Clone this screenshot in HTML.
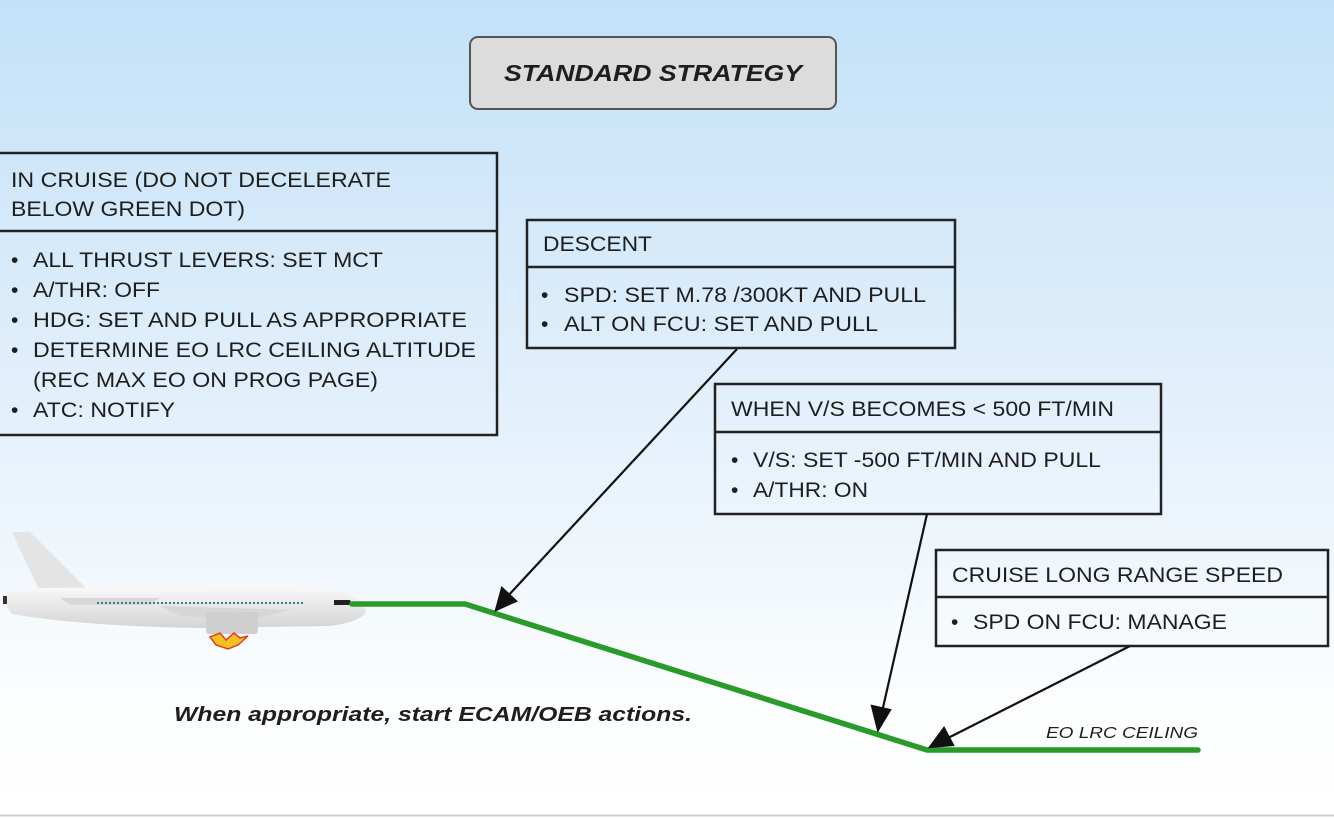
<!DOCTYPE html>
<html><head><meta charset="utf-8"><style>
html,body{margin:0;padding:0;width:1334px;height:818px;overflow:hidden;background:#fff}
svg{display:block}
text{font-family:"Liberation Sans",sans-serif;fill:#1e1e1e}
</style></head><body>
<svg width="1334" height="818" viewBox="0 0 1334 818" xmlns="http://www.w3.org/2000/svg">
<defs>
<linearGradient id="bg" x1="0" y1="0" x2="0" y2="1">
<stop offset="0" stop-color="#c3e1f8"/>
<stop offset="0.5" stop-color="#e3f0fb"/>
<stop offset="0.85" stop-color="#fbfdfe"/>
<stop offset="1" stop-color="#ffffff"/>
</linearGradient>
<linearGradient id="pl" x1="0" y1="0" x2="0" y2="1">
<stop offset="0" stop-color="#fafafa"/><stop offset="1" stop-color="#d4d4d4"/>
</linearGradient>
</defs>
<rect x="0" y="0" width="1334" height="815" fill="url(#bg)"/>
<line x1="0" y1="815.5" x2="1334" y2="815.5" stroke="#cfcfcf" stroke-width="2"/>

<rect x="470" y="37" width="366" height="72" rx="8" fill="#dcdcdc" stroke="#555" stroke-width="2"/>
<text x="653" y="81" text-anchor="middle" font-size="23" font-weight="bold" font-style="italic" textLength="298" lengthAdjust="spacingAndGlyphs">STANDARD STRATEGY</text>

<g fill="none" stroke="#222" stroke-width="2.5">
<rect x="-3" y="153" width="500" height="282"/><line x1="-3" y1="231" x2="497" y2="231"/>
<rect x="527" y="220" width="428" height="128"/><line x1="527" y1="267" x2="955" y2="267"/>
<rect x="715" y="384" width="446" height="130"/><line x1="715" y1="432" x2="1161" y2="432"/>
<rect x="936" y="550" width="392" height="96"/><line x1="936" y1="597" x2="1328" y2="597"/>
</g>

<g font-size="21">
<text x="11" y="187" textLength="380" lengthAdjust="spacingAndGlyphs">IN CRUISE (DO NOT DECELERATE</text>
<text x="11" y="216" textLength="234" lengthAdjust="spacingAndGlyphs">BELOW GREEN DOT)</text>
<text x="11" y="267">•</text><text x="33" y="267" textLength="350" lengthAdjust="spacingAndGlyphs">ALL THRUST LEVERS: SET MCT</text>
<text x="11" y="297">•</text><text x="33" y="297" textLength="127" lengthAdjust="spacingAndGlyphs">A/THR: OFF</text>
<text x="11" y="327">•</text><text x="33" y="327" textLength="434" lengthAdjust="spacingAndGlyphs">HDG: SET AND PULL AS APPROPRIATE</text>
<text x="11" y="357">•</text><text x="33" y="357" textLength="443" lengthAdjust="spacingAndGlyphs">DETERMINE EO LRC CEILING ALTITUDE</text>
<text x="33" y="387" textLength="345" lengthAdjust="spacingAndGlyphs">(REC MAX EO ON PROG PAGE)</text>
<text x="11" y="417">•</text><text x="33" y="417" textLength="142" lengthAdjust="spacingAndGlyphs">ATC: NOTIFY</text>

<text x="543" y="251" textLength="109" lengthAdjust="spacingAndGlyphs">DESCENT</text>
<text x="541" y="302">•</text><text x="564" y="302" textLength="362" lengthAdjust="spacingAndGlyphs">SPD: SET M.78 /300KT AND PULL</text>
<text x="541" y="331">•</text><text x="564" y="331" textLength="314" lengthAdjust="spacingAndGlyphs">ALT ON FCU: SET AND PULL</text>

<text x="731" y="416" textLength="383" lengthAdjust="spacingAndGlyphs">WHEN V/S BECOMES &lt; 500 FT/MIN</text>
<text x="731" y="467">•</text><text x="753" y="467" textLength="348" lengthAdjust="spacingAndGlyphs">V/S: SET -500 FT/MIN AND PULL</text>
<text x="731" y="497">•</text><text x="753" y="497" textLength="115" lengthAdjust="spacingAndGlyphs">A/THR: ON</text>

<text x="952" y="582" textLength="331" lengthAdjust="spacingAndGlyphs">CRUISE LONG RANGE SPEED</text>
<text x="951" y="629">•</text><text x="973" y="629" textLength="254" lengthAdjust="spacingAndGlyphs">SPD ON FCU: MANAGE</text>
</g>

<g>
<path d="M12,532 L30,532 L88,590 L40,592 Z" fill="#e4e4e4"/>
<path d="M6,592 Q4,606 12,614 Q80,626 200,628 L330,626 Q360,622 366,612 Q362,598 340,590 Q300,585 250,586 L40,588 Z" fill="url(#pl)"/>
<path d="M60,598 L160,598 L150,605 L70,605 Z" fill="#d8d8d8"/>
<path d="M160,606 L290,610 L250,620 L180,616 Z" fill="#d6d6d6"/>
<rect x="206" y="612" width="52" height="22" rx="3" fill="#cfcfcf"/>
<line x1="97" y1="603" x2="305" y2="603" stroke="#3a7a8a" stroke-width="2" stroke-dasharray="2,2"/>
<rect x="3" y="596" width="4" height="8" fill="#333"/>
<path d="M334,600 L350,600 L352,605 L334,605 Z" fill="#222"/>
<path d="M210,637 L220,633 L226,640 L234,633 L240,638 L248,636 L238,645 L228,649 L216,645 Z" fill="#f2c020" stroke="#e04020" stroke-width="1.5"/>
</g>

<polyline points="352,604 465,604 927,750 1198,750" fill="none" stroke="#2a9a2a" stroke-width="5.5" stroke-linejoin="round" stroke-linecap="round"/>

<g stroke="#111" stroke-width="2.2" fill="#111">
<line x1="737" y1="349" x2="507" y2="597"/>
<polygon points="496,610 502,588 516,601"/>
<line x1="927" y1="514" x2="882" y2="712"/>
<polygon points="878,730 872,706 890,710"/>
<line x1="1130" y1="646" x2="948" y2="738"/>
<polygon points="930,747 944,728 953,745"/>
</g>

<text x="433" y="721" text-anchor="middle" font-size="20" font-weight="bold" font-style="italic" textLength="518" lengthAdjust="spacingAndGlyphs">When appropriate, start ECAM/OEB actions.</text>
<text x="1046" y="738" font-size="16" font-style="italic" textLength="152" lengthAdjust="spacingAndGlyphs">EO LRC CEILING</text>
</svg>
</body></html>
